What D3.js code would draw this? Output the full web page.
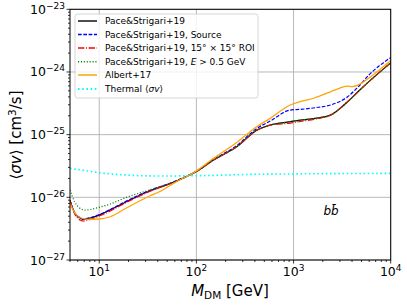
<!DOCTYPE html>
<html><head><meta charset="utf-8">
<script src="https://cdn.jsdelivr.net/npm/d3@7"></script>
<style>body{margin:0;background:#fff}svg{display:block}text{font-family:"DejaVu Sans",sans-serif}</style>
</head><body><svg id="c" width="407" height="305"></svg>
<script>
// ---- data ----
const massMain = [5, 5.6, 6.5, 6.8, 7.7, 10, 13, 19, 33, 60, 100, 150, 260, 420, 575, 925, 1170, 1670, 2400, 3600, 4600, 6200, 10000];
const paceBase = [8.9e-27, 5.6e-27, 4.6e-27, 4.45e-27, 4.6e-27, 5.2e-27, 6.3e-27, 8.5e-27, 1.26e-26, 1.77e-26, 2.58e-26, 3.93e-26, 6.4e-26, 1.18e-25, 1.42e-25, 1.61e-25, 1.71e-25, 1.82e-25, 2.05e-25, 3.35e-25, 4.83e-25, 7.4e-25, 1.40e-24];
const paceSource = [8.9e-27, 5.6e-27, 4.65e-27, 4.5e-27, 4.65e-27, 5.3e-27, 6.4e-27, 8.7e-27, 1.29e-26, 1.8e-26, 2.62e-26, 4.0e-26, 6.7e-26, 1.26e-25, 1.65e-25, 2.47e-25, 2.53e-25, 2.69e-25, 2.97e-25, 4.02e-25, 5.74e-25, 9.5e-25, 1.70e-24];
const paceROI = [9.0e-27, 5.42e-27, 4.27e-27, 4.19e-27, 4.35e-27, 5.03e-27, 6.05e-27, 8.26e-27, 1.24e-26, 1.77e-26, 2.58e-26, 3.93e-26, 6.4e-26, 1.18e-25, 1.42e-25, 1.53e-25, 1.62e-25, 1.77e-25, 2.05e-25, 3.35e-25, 4.83e-25, 7.4e-25, 1.40e-24];
const massGreen = [5, 5.6, 6.3, 7.1, 10, 13, 19, 33, 60, 100, 150, 260, 420, 575, 925, 1170, 1670, 2400, 3600, 4600, 6200, 10000];
const paceE05 = [1.31e-26, 8.4e-27, 6.75e-27, 6.27e-27, 6.93e-27, 7.82e-27, 1.0e-26, 1.31e-26, 1.79e-26, 2.58e-26, 3.93e-26, 6.4e-26, 1.18e-25, 1.42e-25, 1.61e-25, 1.71e-25, 1.82e-25, 2.05e-25, 3.35e-25, 4.83e-25, 7.4e-25, 1.40e-24];
const massAlbert = [5, 5.6, 6.5, 7.7, 10, 13, 19, 33, 42, 60, 100, 150, 260, 420, 575, 925, 1170, 1670, 2400, 3000, 3600, 4000, 4600, 6200, 10000];
const albert17 = [8.1e-27, 5.62e-27, 4.68e-27, 4.46e-27, 4.51e-27, 4.9e-27, 6.75e-27, 1.05e-26, 1.24e-26, 1.72e-26, 2.63e-26, 4.19e-26, 7.48e-26, 1.35e-25, 1.82e-25, 2.97e-25, 3.35e-25, 3.88e-25, 4.83e-25, 5.54e-25, 5.96e-25, 5.85e-25, 6.18e-25, 8.38e-25, 1.53e-24];
const massThermal = [5, 7.1, 10, 19, 42, 95, 420, 10000];
const thermal = [2.90e-26, 2.68e-26, 2.47e-26, 2.27e-26, 2.19e-26, 2.21e-26, 2.33e-26, 2.41e-26];

const xTicks = [10, 100, 1000, 10000];
const xTickExp = ["1", "2", "3", "4"];
const yTicks = [1e-27, 1e-26, 1e-25, 1e-24, 1e-23];
const yTickExp = ["\u221227", "\u221226", "\u221225", "\u221224", "\u221223"];

// ---- drawing ----
const svg = d3.select("#c");
const L = 70, R = 390.7, T = 9.3, B = 260;
const x = d3.scaleLog().domain([5, 1e4]).range([L, R]);
const y = d3.scaleLog().domain([1e-27, 1e-23]).range([B, T]);

// grid
const grid = svg.append("g");
xTicks.forEach(v => grid.append("line").attr("x1", x(v)).attr("x2", x(v)).attr("y1", T).attr("y2", B)
  .attr("stroke", "#b0b0b0").attr("stroke-width", 0.9));
yTicks.forEach(v => grid.append("line").attr("x1", L).attr("x2", R).attr("y1", y(v)).attr("y2", y(v))
  .attr("stroke", "#b0b0b0").attr("stroke-width", 0.9));

// series
const series = [
  {m: massMain, v: paceBase, color: "#000000", w: 1.2, dash: null},
  {m: massMain, v: paceSource, color: "#0000ff", w: 1.2, dash: "3.7,1.6"},
  {m: massMain, v: paceROI, color: "#ff0000", w: 1.2, dash: "6.4,1.6,1,1.6"},
  {m: massGreen, v: paceE05, color: "#008000", w: 1.2, dash: "1.1,1.8"},
  {m: massAlbert, v: albert17, color: "#ffa500", w: 1.3, dash: null},
  {m: massThermal, v: thermal, color: "#00ffff", w: 1.6, dash: "1.6,2.6"}
];
const line = d3.line().x(d => x(d[0])).y(d => y(d[1])).curve(d3.curveMonotoneX);
svg.append("clipPath").attr("id", "pc").append("rect").attr("x", L).attr("y", T).attr("width", R - L).attr("height", B - T);
const plot = svg.append("g").attr("clip-path", "url(#pc)");
series.forEach(s => {
  plot.append("path").datum(s.m.map((m, i) => [m, s.v[i]]))
    .attr("d", line).attr("fill", "none").attr("stroke", s.color).attr("stroke-width", s.w)
    .attr("stroke-dasharray", s.dash);
});

// frame
svg.append("rect").attr("x", L).attr("y", T).attr("width", R - L).attr("height", B - T)
  .attr("fill", "none").attr("stroke", "#000").attr("stroke-width", 1);

// ticks
const tk = svg.append("g").attr("stroke", "#000").attr("stroke-width", 0.8);
xTicks.forEach(v => tk.append("line").attr("x1", x(v)).attr("x2", x(v)).attr("y1", B).attr("y2", B + 3.5));
yTicks.forEach(v => tk.append("line").attr("x1", L - 3.5).attr("x2", L).attr("y1", y(v)).attr("y2", y(v)));
for (let e = 0; e <= 3; e++) for (let k = 2; k <= 9; k++) {
  const v = k * Math.pow(10, e);
  if (v >= 5 && v <= 1e4) tk.append("line").attr("x1", x(v)).attr("x2", x(v)).attr("y1", B).attr("y2", B + 2);
}
for (let e = -27; e < -23; e++) for (let k = 2; k <= 9; k++) {
  const v = k * Math.pow(10, e);
  tk.append("line").attr("x1", L - 2).attr("x2", L).attr("y1", y(v)).attr("y2", y(v));
}

// tick labels
xTicks.forEach((v, i) => {
  const t = svg.append("text").attr("x", x(v)).attr("y", 276).attr("text-anchor", "middle").attr("font-size", 12.5).attr("fill", "#000");
  t.append("tspan").text("10");
  t.append("tspan").attr("dy", -5).attr("font-size", 9).text(xTickExp[i]);
});
yTicks.forEach((v, i) => {
  const t = svg.append("text").attr("x", 65).attr("y", y(v) + 4.5).attr("text-anchor", "end").attr("font-size", 12.5).attr("fill", "#000");
  t.append("tspan").text("10");
  t.append("tspan").attr("dy", -5).attr("font-size", 9).text(yTickExp[i]);
});

// axis labels
const xl = svg.append("text").attr("x", 230).attr("y", 296).attr("text-anchor", "middle").attr("font-size", 15).attr("fill", "#000");
xl.append("tspan").attr("font-style", "italic").text("M");
xl.append("tspan").attr("dy", 3).attr("font-size", 10.5).text("DM");
xl.append("tspan").attr("dy", -3).text(" [GeV]");

const yl = svg.append("text").attr("transform", "translate(21,135) rotate(-90)").attr("text-anchor", "middle").attr("font-size", 15).attr("fill", "#000");
yl.append("tspan").text("\u27E8");
yl.append("tspan").attr("font-style", "italic").text("\u03C3v");
yl.append("tspan").text("\u27E9 [cm");
yl.append("tspan").attr("dy", -5).attr("font-size", 10.5).text("3");
yl.append("tspan").attr("dy", 5).text("/s]");

// annotation
const an = svg.append("text").attr("x", 331).attr("y", 215).attr("text-anchor", "middle").attr("font-size", 12).attr("font-style", "italic").attr("fill", "#000");
an.text("bb\u0304");

// legend
const lg = svg.append("g");
lg.append("rect").attr("x", 75).attr("y", 14).attr("width", 183).attr("height", 84).attr("rx", 2.5)
  .attr("fill", "#fff").attr("fill-opacity", 0.8).attr("stroke", "#cccccc").attr("stroke-width", 0.8);
const labels = [
  [{t: "Pace&Strigari+19"}],
  [{t: "Pace&Strigari+19, Source"}],
  [{t: "Pace&Strigari+19, 15\u00B0 \u00D7 15\u00B0 ROI"}],
  [{t: "Pace&Strigari+19, "}, {t: "E", it: true}, {t: " > 0.5 GeV"}],
  [{t: "Albert+17"}],
  [{t: "Thermal \u27E8"}, {t: "\u03C3v", it: true}, {t: "\u27E9"}]
];
const ly = [21, 34.5, 48, 61.7, 75, 89];
series.forEach((s, i) => {
  lg.append("line").attr("x1", 78).attr("x2", 97).attr("y1", ly[i]).attr("y2", ly[i])
    .attr("stroke", s.color).attr("stroke-width", s.w + 0.2).attr("stroke-dasharray", s.dash);
  const t = lg.append("text").attr("x", 105).attr("y", ly[i] + 3.2).attr("font-size", 9).attr("fill", "#000");
  labels[i].forEach(p => t.append("tspan").attr("font-style", p.it ? "italic" : null).text(p.t));
});
</script>
</body></html>
